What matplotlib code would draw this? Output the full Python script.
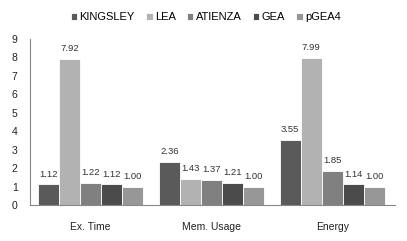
import numpy as np
import matplotlib.pyplot as plt

categories = ['Ex. Time', 'Mem. Usage', 'Energy']
series = ['KINGSLEY', 'LEA', 'ATIENZA', 'GEA', 'pGEA4']
kingsley = [1.12, 2.36, 3.55]
lea = [7.92, 1.43, 7.99]
atienza = [1.22, 1.37, 1.85]
gea = [1.12, 1.21, 1.14]
pgea4 = [1.00, 1.00, 1.00]
colors = ['#5a5a5a', '#b2b2b2', '#808080', '#4b4b4b', '#979797']

plt.rcParams['font.family'] = ['Liberation Sans', 'DejaVu Sans']

fig = plt.figure(figsize=(4.07, 2.41), dpi=100)
ax = fig.add_axes([0.074, 0.149, 0.897, 0.689])

x = np.arange(len(categories))
w = 0.174
for i, (name, vals) in enumerate(zip(series, [kingsley, lea, atienza, gea, pgea4])):
    pos = x + (i - 2) * w
    ax.bar(pos, vals, width=w, color=colors[i], edgecolor='white', linewidth=0.6, label=name)
    for p, v in zip(pos, vals):
        ax.text(p, v + 0.3, f'{v:.2f}', ha='center', va='bottom', fontsize=6.8, color='#333333')

ax.set_xlim(-0.5, 2.52)
ax.set_ylim(0, 9)
ax.set_yticks(range(10))
ax.set_xticks(x)
ax.set_xticklabels(categories)
ax.tick_params(length=0, labelsize=7.5, colors='#222222')
ax.tick_params(axis='x', pad=12)
ax.tick_params(axis='y', pad=9)
for s in ['top', 'right']:
    ax.spines[s].set_visible(False)
ax.spines['left'].set_color('#888888')
ax.spines['bottom'].set_color('#888888')

fig.legend(loc='upper center', bbox_to_anchor=(0.505, 0.99), ncol=5, frameon=False,
           fontsize=8, handlelength=0.6, handleheight=0.6, handletextpad=0.2,
           columnspacing=1.0)

fig.savefig('out.png', dpi=100)
